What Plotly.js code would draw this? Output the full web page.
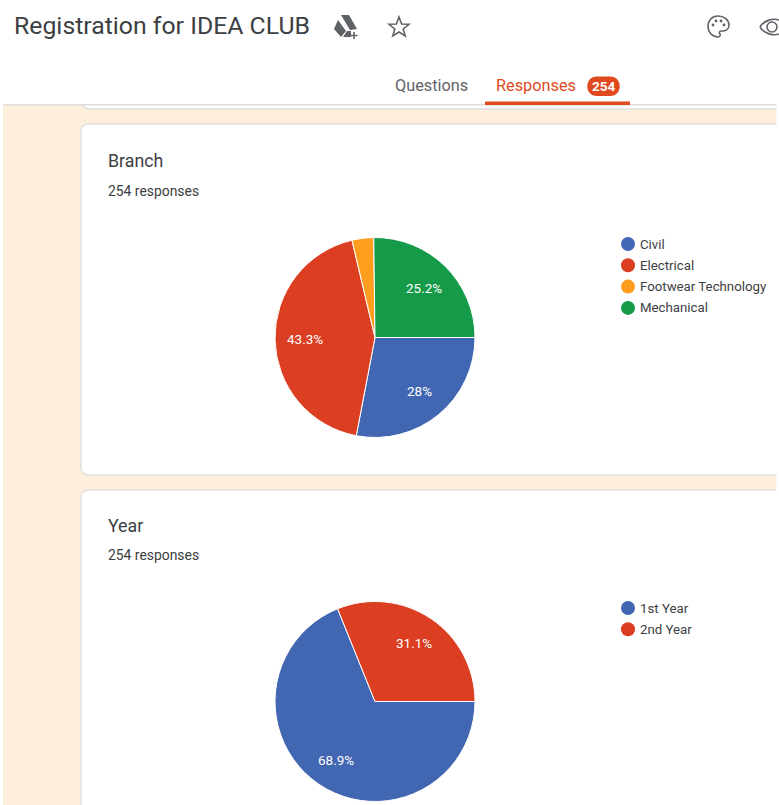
<!DOCTYPE html>
<html>
<head>
<meta charset="utf-8">
<script src="https://cdn.plot.ly/plotly-3.0.1.min.js"></script>
<style>html,body{margin:0;padding:0;background:#fff}#chart{width:779px;height:805px}</style>
</head>
<body>
<div id="chart"></div>
<script>
const W = 779, H = 805;

const formTitle = "Registration for IDEA CLUB";
const tabs = ["Questions", "Responses"];
const responseCount = "254";

const branchTitle = "Branch";
const branchSubtitle = "254 responses";
const branchLabels = ["Civil", "Electrical", "Footwear Technology", "Mechanical"];
const branchValues = [28, 43.3, 3.5, 25.2];
const branchText = ["28%", "43.3%", "", "25.2%"];
const branchColors = ["#4267b2", "#dc3e22", "#ff9d1e", "#159a49"];

const yearTitle = "Year";
const yearSubtitle = "254 responses";
const yearLabels = ["1st Year", "2nd Year"];
const yearValues = [68.9, 31.1];
const yearText = ["68.9%", "31.1%"];
const yearColors = ["#4267b2", "#dc3e22"];

const FONT = "Roboto, Arial, sans-serif";
const INK = "#3c4043";
const PIE_X = 375, PIE_R = 100, LABEL_R = 70, START_DEG = 90;
const LEGEND_X = 628, LEGEND_TEXT_X = 640, LEGEND_STEP = 21.3;

const domX = (a, b) => [a / W, b / W];
const domY = (top, bottom) => [1 - bottom / H, 1 - top / H];

function pie(labels, values, colors, cy) {
  return {
    type: "pie", labels, values, sort: false, direction: "clockwise", rotation: START_DEG,
    textinfo: "none",
    marker: {colors, line: {color: "#ffffff", width: 1}},
    domain: {x: domX(PIE_X - PIE_R, PIE_X + PIE_R), y: domY(cy - PIE_R, cy + PIE_R)},
    showlegend: false, hoverinfo: "label+percent"
  };
}
// white labels placed at each slice's mid-angle, as the reference does
function sliceLabels(values, text, cy) {
  const total = values.reduce((a, b) => a + b, 0);
  let acc = 0;
  return values.map((v, i) => {
    const mid = (START_DEG + (acc + v / 2) / total * 360) * Math.PI / 180;
    acc += v;
    return {text: text[i], x: PIE_X + LABEL_R * Math.sin(mid), y: cy - LABEL_R * Math.cos(mid),
      xref: "x", yref: "y", xanchor: "center", yanchor: "middle", showarrow: false,
      font: {family: FONT, size: 13.5, color: "#ffffff"}};
  }).filter(a => a.text);
}
function legendMarkers(colors, y0) {
  return {
    type: "scatter", mode: "markers", xaxis: "x", yaxis: "y",
    x: colors.map(() => LEGEND_X), y: colors.map((c, i) => y0 + i * LEGEND_STEP),
    marker: {color: colors, size: 14, symbol: "circle"}, showlegend: false, hoverinfo: "skip"
  };
}
const traces = [
  legendMarkers(branchColors, 244),
  legendMarkers(yearColors, 608),
  pie(branchLabels, branchValues, branchColors, 337.5),
  pie(yearLabels, yearValues, yearColors, 701.5)
];

function rect(x0, y0, x1, y1, fill) {
  return {type: "rect", xref: "x", yref: "y", x0, y0, x1, y1, fillcolor: fill, line: {width: 0}, layer: "below"};
}
function card(x0, y0, x1, y1) {
  const r = 8;
  return {type: "path", xref: "x", yref: "y", layer: "below", fillcolor: "#ffffff",
    line: {color: "#e3e1de", width: 1.5},
    path: `M${x0+r},${y0} L${x1},${y0} L${x1},${y1} L${x0+r},${y1} Q${x0},${y1} ${x0},${y1-r} L${x0},${y0+r} Q${x0},${y0} ${x0+r},${y0} Z`};
}
function icon(path, fill, line) {
  return {type: "path", xref: "x", yref: "y", layer: "below", path,
    fillcolor: fill || "rgba(0,0,0,0)", line: {color: line || "rgba(0,0,0,0)", width: line ? 1.6 : 0}};
}
function label(text, x, y, size, color, anchor) {
  return {text, x: anchor ? x : x - 2, y, xref: "x", yref: "y", xanchor: anchor || "left", yanchor: "middle",
    showarrow: false, font: {family: FONT, size, color}};
}
const shapes = [
  rect(3, 105, 779, 805, "#fdefdc"),
  // remnant of the card above, under the tab bar
  card(82, 90, 790, 109),
  rect(0, 80, 779, 104, "#ffffff"),
  rect(3, 104, 779, 105.5, "#dfdedd"),
  card(81, 124, 790, 475),
  card(81, 490, 790, 830),
  rect(776.5, 100, 779, 805, "#ffffff"),
  rect(485, 101.5, 630, 105, "#e04a1f"),
  icon("M597,76.5 L610,76.5 C623,76.5 623,96 610,96 L597,96 C584,96 584,76.5 597,76.5 Z", "#e04a1f"),
  // drive icon
  icon("M341,15 L349,15 L357,29 L350,30 Z M338,20 L346,31 L341,37 L334,29 Z M343,37 L347,31 L351,31 L351,37 Z", "#5f6368"),
  icon("M354,32 L354,39 M350.5,35.5 L357.5,35.5", null, "#5f6368"),
  // star
  icon("M399,17 L401.6,24 L409,24.3 L403.2,29 L405.2,36 L399,32 L392.8,36 L394.8,29 L389,24.3 L396.4,24 Z", null, "#5f6368"),
  // palette
  icon("M718,16 C724,16 729,20 729,25 C729,29 726,31 723,31 L721,31 C719,31 719,33 720,34 C721,36 719,37 718,37 C712,37 708,32 708,26.5 C708,20.5 712,16 718,16 Z", null, "#5f6368"),
  ...[[713,25],[716,21],[721,21],[724,25]].map(([x, y]) => ({type: "circle", xref: "x", yref: "y", layer: "below",
    x0: x-1.4, x1: x+1.4, y0: y-1.4, y1: y+1.4, fillcolor: "#5f6368", line: {width: 0}})),
  // eye
  icon("M760,27 C764,20 774,18 779,20 M760,27 C764,34 774,36 779,34", null, "#5f6368"),
  {type: "circle", xref: "x", yref: "y", layer: "below", x0: 767, x1: 777, y0: 22, y1: 32,
   fillcolor: "rgba(0,0,0,0)", line: {color: "#5f6368", width: 1.6}}
];
const legendLabels = (labels, y0) => labels.map((t, i) => label(t, LEGEND_TEXT_X, y0 + i * LEGEND_STEP, 13.25, INK));
const annotations = [
  label(formTitle, 14, 25, 24.8, INK),
  label(tabs[0], 395, 85, 16.3, "#5f6368"),
  label(tabs[1], 496, 85, 16.3, "#e04a1f"),
  label("<b>" + responseCount + "</b>", 603.5, 86, 13.5, "#ffffff", "center"),
  label(branchTitle, 108, 160, 17.8, INK),
  label(branchSubtitle, 108, 191, 13.9, INK),
  label(yearTitle, 108, 525, 17.8, INK),
  label(yearSubtitle, 108, 555, 13.9, INK),
  ...legendLabels(branchLabels, 244),
  ...legendLabels(yearLabels, 608),
  ...sliceLabels(branchValues, branchText, 337.5),
  ...sliceLabels(yearValues, yearText, 701.5)
];

const layout = {
  width: W, height: H, margin: {l: 0, r: 0, t: 0, b: 0},
  paper_bgcolor: "#ffffff", plot_bgcolor: "rgba(0,0,0,0)",
  xaxis: {range: [0, W], visible: false, fixedrange: true},
  yaxis: {range: [H, 0], visible: false, fixedrange: true},
  showlegend: false,
  shapes, annotations
};
Plotly.newPlot("chart", traces, layout, {displayModeBar: false, staticPlot: true});
</script>
</body>
</html>
